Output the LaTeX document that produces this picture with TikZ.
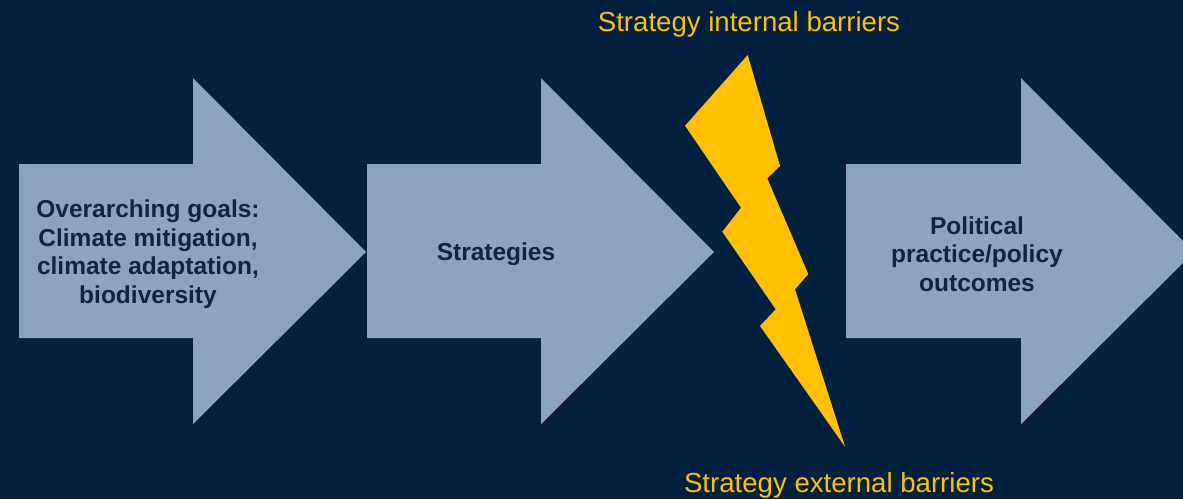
\documentclass[tikz,border=0pt]{standalone}
\usepackage{fontspec}
\setmainfont{Liberation Sans}
\definecolor{bgnavy}{HTML}{02203F}
\definecolor{arrowblue}{HTML}{8AA6BF}
\definecolor{textnavy}{HTML}{0E2545}
\definecolor{boltyellow}{HTML}{FFC000}
\tikzset{
  bigarrow/.style={fill=arrowblue},
  arrowtext/.style={text=textnavy, align=center, inner sep=0pt,
    font=\fontsize{24.5}{28.5}\selectfont\bfseries},
  barrierlabel/.style={text=boltyellow, anchor=base, inner sep=0pt,
    font=\fontsize{27.6}{30}\selectfont},
  bolt/.style={fill=boltyellow}
}
\begin{document}
\begin{tikzpicture}[x=1pt,y=-1pt]
\useasboundingbox (0,0) rectangle (1183,499);
\clip (0,0) rectangle (1183,499);
\fill[bgnavy] (0,0) rectangle (1183,499);

% arrow 1
\fill[bigarrow] (19,164) -- (193,164) -- (193,78) -- (366,252) -- (193,424)
  -- (193,338) -- (19,338) -- cycle;
% arrow 2
\fill[bigarrow] (367,164) -- (541,164) -- (541,78) -- (714,252) -- (541,424)
  -- (541,338) -- (367,338) -- cycle;
% arrow 3
\fill[bigarrow] (846,164) -- (1021,164) -- (1021,78) -- (1194,252) -- (1021,424)
  -- (1021,338) -- (846,338) -- cycle;

\node[arrowtext] (goals) at (148,254) {Overarching goals:\\Climate mitigation,\\climate adaptation,\\biodiversity};
\node[arrowtext] (strat) at (496,254) {Strategies};
\node[arrowtext] (outc) at (977,254) {Political\\practice/policy\\outcomes};

% lightning bolt
\fill[bolt] (747.7,55) -- (780,166) -- (767.3,178.3) -- (808.3,274) -- (795,289.3)
  -- (845,446.7) -- (760,326) -- (775.7,309.3) -- (722.3,231.7) -- (741,207.7)
  -- (685,125.7) -- cycle;

\node[barrierlabel] (internal) at (749,31) {Strategy internal barriers};
\node[barrierlabel] (external) at (839,492) {Strategy external barriers};
\end{tikzpicture}
\end{document}
